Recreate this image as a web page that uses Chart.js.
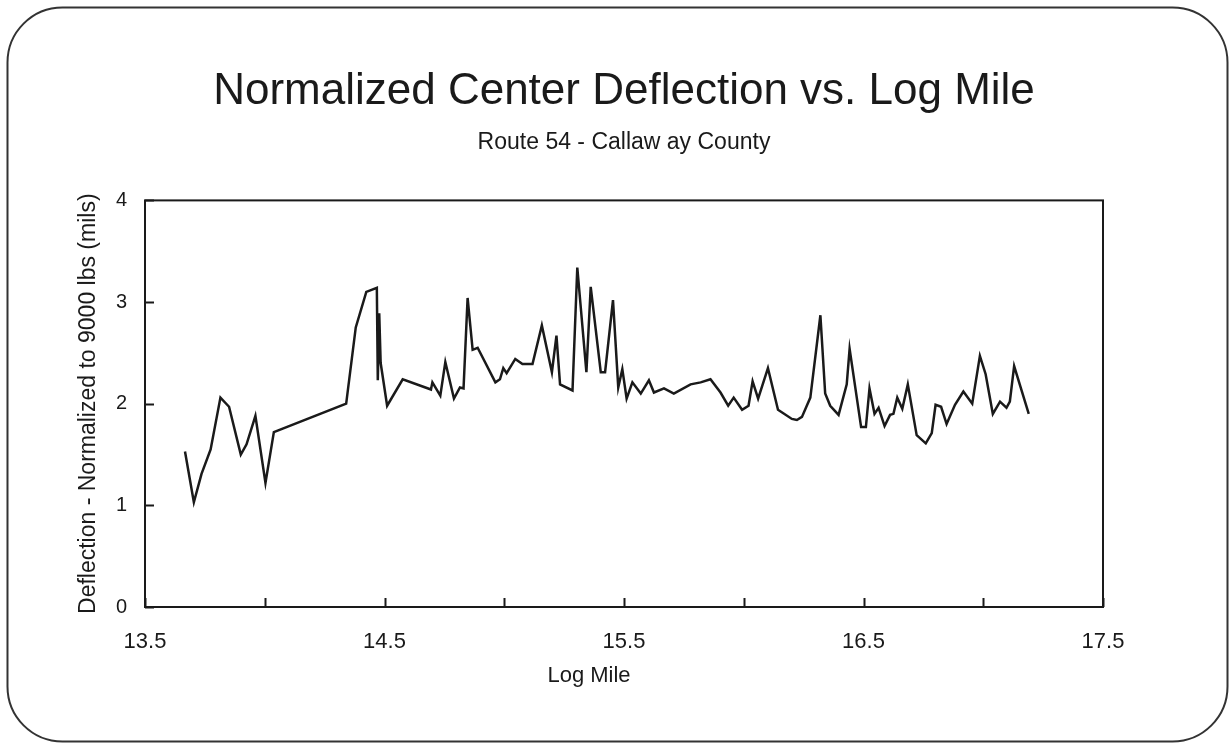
<!DOCTYPE html>
<html>
<head>
<meta charset="utf-8">
<script src="https://cdn.jsdelivr.net/npm/chart.js@4"></script>
<style>
  html, body { margin: 0; padding: 0; background: #fff; }
  #wrap { width: 1231px; height: 743px; }
</style>
</head>
<body>
<div id="wrap"><canvas id="grafico" width="1231" height="743"></canvas></div>
<script>
"use strict";

// dati
const logMile = [
    13.667, 13.704, 13.736, 13.774, 13.815, 13.851, 13.900, 13.924, 13.961, 14.003,
    14.038, 14.340, 14.380, 14.424, 14.468, 14.472, 14.478, 14.484, 14.511, 14.576,
    14.694, 14.700, 14.733, 14.754, 14.790, 14.815, 14.830, 14.847, 14.868, 14.889,
    14.963, 14.982, 14.996, 15.010, 15.046, 15.076, 15.118, 15.157, 15.199, 15.218,
    15.233, 15.285, 15.305, 15.343, 15.361, 15.403, 15.421, 15.454, 15.476, 15.493,
    15.511, 15.535, 15.570, 15.604, 15.625, 15.667, 15.708, 15.778, 15.820, 15.861,
    15.903, 15.935, 15.958, 15.993, 16.020, 16.037, 16.060, 16.101, 16.143, 16.201,
    16.222, 16.243, 16.278, 16.320, 16.340, 16.361, 16.396, 16.430, 16.442, 16.490,
    16.510, 16.525, 16.546, 16.563, 16.588, 16.611, 16.625, 16.641, 16.662, 16.685,
    16.722, 16.760, 16.785, 16.801, 16.824, 16.847, 16.882, 16.917, 16.954, 16.986,
    17.010, 17.040, 17.070, 17.097, 17.111, 17.129, 17.190
];
const deflessione = [
    1.53, 1.03, 1.31, 1.55, 2.06, 1.97, 1.50, 1.60, 1.88, 1.22,
    1.72, 2.00, 2.75, 3.10, 3.14, 2.23, 2.89, 2.40, 1.98, 2.24,
    2.14, 2.21, 2.08, 2.41, 2.05, 2.16, 2.15, 3.04, 2.53, 2.55,
    2.21, 2.24, 2.35, 2.30, 2.44, 2.39, 2.39, 2.77, 2.31, 2.67,
    2.19, 2.13, 3.34, 2.31, 3.15, 2.31, 2.31, 3.02, 2.16, 2.34,
    2.05, 2.21, 2.10, 2.23, 2.11, 2.15, 2.10, 2.19, 2.21, 2.24,
    2.11, 1.98, 2.06, 1.94, 1.98, 2.22, 2.05, 2.35, 1.94, 1.85,
    1.84, 1.87, 2.06, 2.87, 2.10, 1.98, 1.89, 2.19, 2.54, 1.77,
    1.77, 2.15, 1.90, 1.96, 1.78, 1.89, 1.90, 2.06, 1.95, 2.19,
    1.69, 1.61, 1.71, 1.99, 1.97, 1.80, 1.99, 2.12, 2.00, 2.47,
    2.29, 1.90, 2.02, 1.96, 2.02, 2.37, 1.90
];
const etichetteX = [13.5, 14.5, 15.5, 16.5, 17.5]; // solo queste hanno il numero

const FONT = "'Liberation Sans', Arial, Helvetica, sans-serif";
const NERO = "#1a1a1a";

// cornice arrotondata, bordo del grafico, tacche interne, titolo asse X
const pluginCornice = {
    id: "cornice",
    beforeDraw(chart) {
        const ctx = chart.ctx;
        ctx.save();
        ctx.fillStyle = "#fff";
        ctx.fillRect(0, 0, chart.width, chart.height);
        ctx.strokeStyle = "#333";
        ctx.lineWidth = 2;
        ctx.beginPath();
        ctx.roundRect(7.5, 7.5, 1220, 734, 55);
        ctx.stroke();
        ctx.restore();
    },
    afterDatasetsDraw(chart) {
        const ctx = chart.ctx;
        const a = chart.chartArea;
        const sx = chart.scales.x, sy = chart.scales.y;
        ctx.save();
        ctx.strokeStyle = NERO;
        ctx.lineWidth = 2;
        ctx.strokeRect(a.left, a.top, a.right - a.left, a.bottom - a.top);
        ctx.beginPath();
        sx.ticks.forEach(t => {
            const px = Math.round(sx.getPixelForValue(t.value)) + 0.5;
            ctx.moveTo(px, a.bottom);
            ctx.lineTo(px, a.bottom - 9);
        });
        sy.ticks.forEach(t => {
            const py = Math.round(sy.getPixelForValue(t.value)) + 0.5;
            ctx.moveTo(a.left, py);
            ctx.lineTo(a.left + 9, py);
        });
        ctx.stroke();
        // titolo asse X (nel grafico originale non è centrato sull'area)
        ctx.fillStyle = NERO;
        ctx.font = "22px " + FONT;
        ctx.textAlign = "center";
        ctx.textBaseline = "middle";
        ctx.fillText("Log Mile", 589, 676);
        ctx.restore();
    }
};

const punti = logMile.map((x, i) => ({ x: x, y: deflessione[i] }));

new Chart(document.getElementById("grafico"), {
    type: "line",
    data: {
        datasets: [{
            data: punti,
            borderColor: NERO,
            borderWidth: 2.5,
            pointRadius: 0,
            tension: 0,
            fill: false
        }]
    },
    options: {
        responsive: false,
        animation: false,
        layout: { padding: { left: 60, right: 128, top: 0, bottom: 40 } },
        plugins: {
            legend: { display: false },
            tooltip: { enabled: false },
            title: {
                display: true,
                fullSize: false,
                text: "Normalized Center Deflection vs. Log Mile",
                color: NERO,
                font: { family: FONT, size: 44, weight: "normal" },
                padding: { top: 65, bottom: 0 }
            },
            subtitle: {
                display: true,
                fullSize: false,
                text: "Route 54 - Callaw ay County",
                color: NERO,
                font: { family: FONT, size: 23, weight: "normal" },
                padding: { top: 11, bottom: 44 }
            }
        },
        scales: {
            x: {
                type: "linear",
                min: 13.5,
                max: 17.5,
                afterFit(scale) { scale.height = 96; },
                grid: { display: false, drawTicks: false },
                border: { display: false },
                ticks: {
                    stepSize: 0.5,
                    autoSkip: false,
                    maxRotation: 0,
                    padding: 22,
                    color: NERO,
                    font: { family: FONT, size: 22 },
                    callback: function (v) {
                        return etichetteX.some(e => Math.abs(e - v) < 1e-6) ? v.toFixed(1) : "";
                    }
                }
            },
            y: {
                min: 0,
                max: 4,
                afterFit(scale) { scale.width = 85; },
                grid: { display: false, drawTicks: false },
                border: { display: false },
                ticks: {
                    stepSize: 1,
                    padding: 18,
                    color: NERO,
                    font: { family: FONT, size: 20 }
                },
                title: {
                    display: true,
                    text: "Deflection - Normalized to 9000 lbs (mils)",
                    color: NERO,
                    font: { family: FONT, size: 23 },
                    padding: { top: 15, bottom: 0 }
                }
            }
        }
    },
    plugins: [pluginCornice]
});
</script>
</body>
</html>
